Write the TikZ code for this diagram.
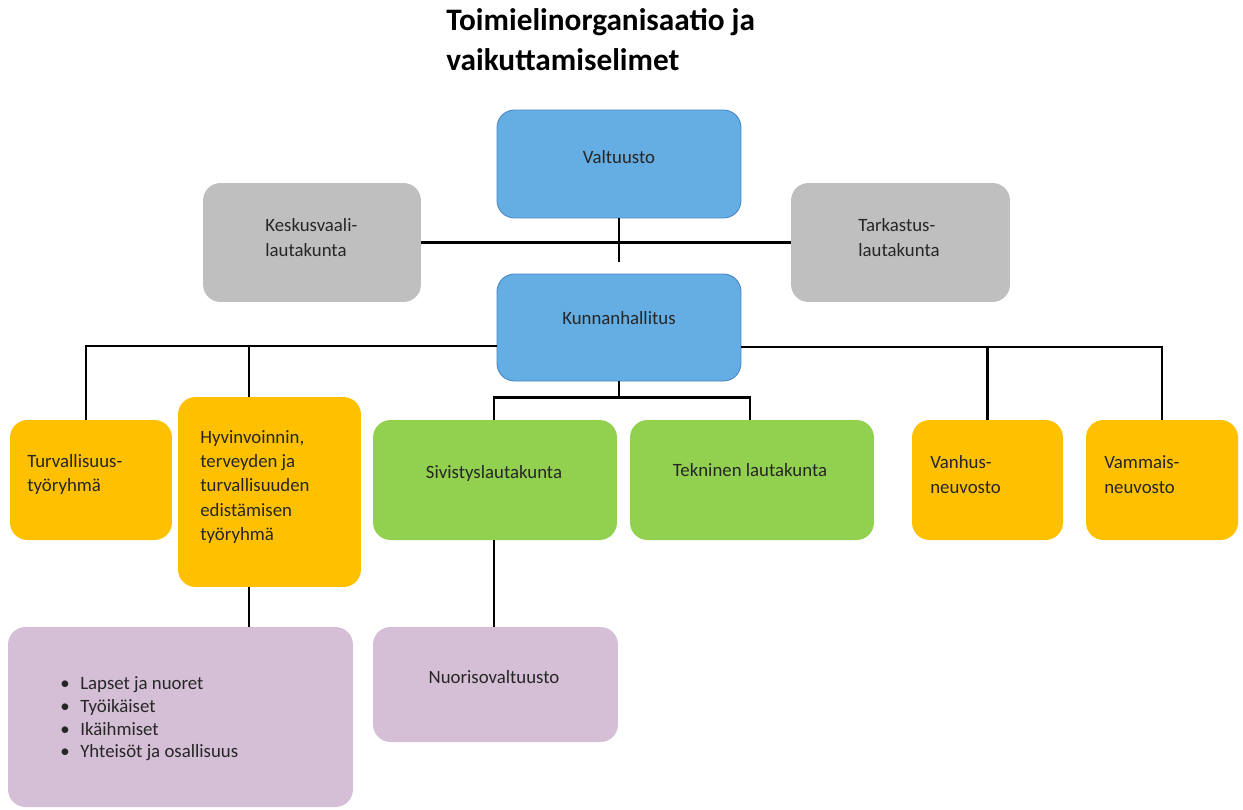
\documentclass[tikz,border=0pt]{standalone}
\usepackage{fontspec}
\setmainfont{Carlito}
\definecolor{boardblue}{HTML}{64AEE3}
\definecolor{boardedge}{HTML}{4A86C5}
\definecolor{boardgray}{HTML}{BFBFBF}
\definecolor{boardorange}{HTML}{FFC000}
\definecolor{boardgreen}{HTML}{92D050}
\definecolor{boardpurple}{HTML}{D5BFD6}

\begin{document}
\begin{tikzpicture}[x=0.02cm, y=-0.02cm,
    box/.style={rectangle, rounded corners=0.35cm, inner sep=0pt},
    bluebox/.style={box, fill=boardblue, draw=boardedge, line width=0.5pt},
    graybox/.style={box, fill=boardgray},
    orangebox/.style={box, fill=boardorange},
    greenbox/.style={box, fill=boardgreen},
    purplebox/.style={box, fill=boardpurple},
    txt/.style={inner sep=0pt, align=left, text=black!85,
        font=\fontsize{10.7}{13.9}\selectfont},
    link/.style={line width=1.4pt}]
\path[use as bounding box, fill=white] (0,0) rectangle (1243,809);

% title
\node[anchor=west, align=left, inner sep=0pt,
    font=\fontsize{17.8}{22.7}\selectfont\bfseries] (title) at (446,40)
    {Toimielinorganisaatio ja\\vaikuttamiselimet};

% boxes
\node[bluebox, minimum width=4.88cm, minimum height=2.16cm] (valt) at (619,164) {};
\node[graybox, minimum width=4.36cm, minimum height=2.38cm] (kesk) at (312,242.5) {};
\node[graybox, minimum width=4.38cm, minimum height=2.38cm] (tark) at (900.5,242.5) {};
\node[bluebox, minimum width=4.88cm, minimum height=2.14cm] (kunn) at (619,327.5) {};
\node[orangebox, minimum width=3.24cm, minimum height=2.4cm] (turv) at (91,480) {};
\node[orangebox, minimum width=3.66cm, minimum height=3.8cm] (hyvi) at (269.5,492) {};
\node[greenbox, minimum width=4.88cm, minimum height=2.4cm] (sivi) at (495,480) {};
\node[greenbox, minimum width=4.88cm, minimum height=2.4cm] (tekn) at (752,480) {};
\node[orangebox, minimum width=3.02cm, minimum height=2.4cm] (vanh) at (987.5,480) {};
\node[orangebox, minimum width=3.04cm, minimum height=2.4cm] (vamm) at (1162,480) {};
\node[purplebox, minimum width=6.9cm, minimum height=3.6cm] (laps) at (180.5,717) {};
\node[purplebox, minimum width=4.9cm, minimum height=2.3cm] (nuor) at (495.5,684.5) {};

% texts
\node[txt] (valtT) at (619,157) {Valtuusto};
\node[txt, anchor=west] (keskT) at (265,237.5) {Keskusvaali-\\lautakunta};
\node[txt, anchor=west] (tarkT) at (858,237.5) {Tarkastus-\\lautakunta};
\node[txt] (kunnT) at (619,318) {Kunnanhallitus};
\node[txt, anchor=west] (turvT) at (27,474.5) {Turvallisuus-\\työryhmä};
\node[txt, anchor=west] (hyviT) at (200,487)
    {Hyvinvoinnin,\\terveyden ja\\turvallisuuden\\edistämisen\\työryhmä};
\node[txt] (siviT) at (494,473) {Sivistyslautakunta};
\node[txt] (teknT) at (750,470) {Tekninen lautakunta};
\node[txt, anchor=west] (vanhT) at (930,474.5) {Vanhus-\\neuvosto};
\node[txt, anchor=west] (vammT) at (1104,474.5) {Vammais-\\neuvosto};
\node[txt] (nuorT) at (494,677) {Nuorisovaltuusto};
\node[txt, anchor=west, font=\fontsize{10.7}{12.9}\selectfont] (lapsT) at (60,719)
    {\makebox[0.4cm][l]{\textbullet}Lapset ja nuoret\\
     \makebox[0.4cm][l]{\textbullet}Työikäiset\\
     \makebox[0.4cm][l]{\textbullet}Ikäihmiset\\
     \makebox[0.4cm][l]{\textbullet}Yhteisöt ja osallisuus};

% connectors
\coordinate (vj) at (619,262);
\draw[link] (valt.south) -- (vj);
\draw[link] (kesk.east) -- (tark.west);

\coordinate (kl) at ([yshift=-0.37cm]kunn.west);
\draw[link] (kl) -| ([xshift=-0.1cm]turv.north);
\draw[link] ([xshift=-0.41cm]hyvi.north) -- ([xshift=-0.41cm]hyvi.north |- kl);

\coordinate (kr) at ([yshift=-0.39cm]kunn.east);
\draw[link] (kr) -| (vamm.north);
\draw[link] (vanh.north) -- (vanh.north |- kr);

\coordinate (kb) at ([yshift=-0.32cm]kunn.south);
\draw[link] (kunn.south) -- (kb);
\draw[link] ([xshift=-0.02cm]sivi.north) |- (kb) -| ([xshift=-0.04cm]tekn.north);

\draw[link] ([xshift=-0.41cm]hyvi.south) -- ([xshift=-0.41cm]hyvi.south |- laps.north);
\draw[link] ([xshift=-0.02cm]sivi.south) -- ([xshift=-0.02cm]sivi.south |- nuor.north);
\end{tikzpicture}
\end{document}
